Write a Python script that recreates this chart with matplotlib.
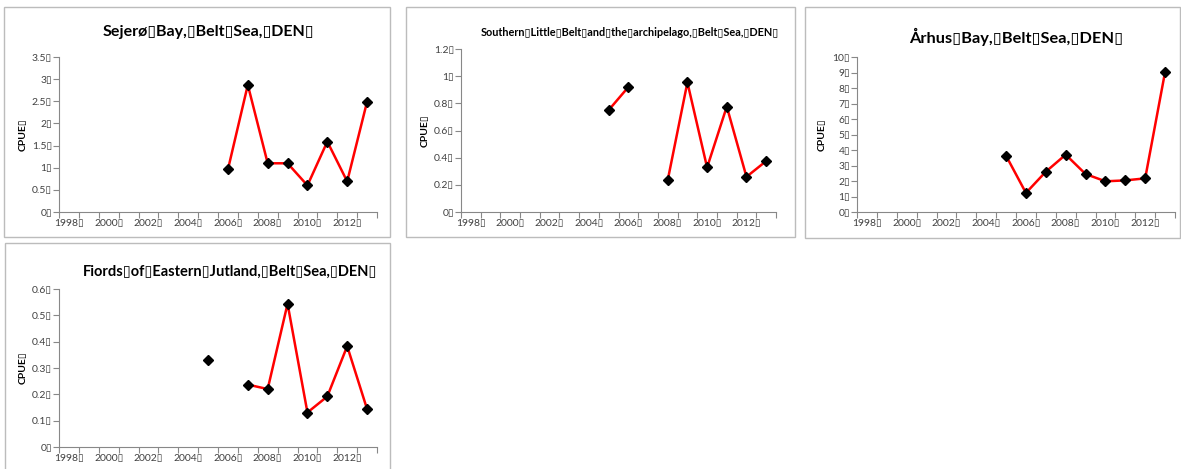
import numpy as np
import matplotlib
matplotlib.use('Agg')
from matplotlib import pyplot as plt
from matplotlib.patches import Rectangle

plt.rcParams['font.family'] = ['Lato', 'DejaVu Sans']

W, H = 1181, 469
NAN = np.nan
BOX = '\u25af'

years = list(range(1998, 2014))
year_labels = [str(y) + BOX if y % 2 == 0 else '' for y in years]

# CPUE per area, one value per year 1998-2013 (NaN = no survey)
sejero = [NAN] * 8 + [0.96, 2.87, 1.10, 1.10, 0.60, 1.59, 0.69, 2.49]
little_belt = [NAN] * 7 + [0.75, 0.92, NAN, 0.234, 0.954, 0.328, 0.776, 0.259, 0.375]
aarhus = [NAN] * 7 + [3.63, 1.23, 2.60, 3.70, 2.45, 1.98, 2.04, 2.17, 9.03]
fiords = [NAN] * 7 + [0.33, NAN, 0.237, 0.22, 0.544, 0.131, 0.192, 0.383, 0.144]

titles = [
    'Sejerø' + BOX + 'Bay,' + BOX + 'Belt' + BOX + 'Sea,' + BOX + 'DEN' + BOX,
    'Southern' + BOX + 'Little' + BOX + 'Belt' + BOX + 'and' + BOX + 'the' + BOX
    + 'archipelago,' + BOX + 'Belt' + BOX + 'Sea,' + BOX + 'DEN' + BOX,
    'Århus' + BOX + 'Bay,' + BOX + 'Belt' + BOX + 'Sea,' + BOX + 'DEN' + BOX,
    'Fiords' + BOX + 'of' + BOX + 'Eastern' + BOX + 'Jutland,' + BOX + 'Belt' + BOX
    + 'Sea,' + BOX + 'DEN' + BOX,
]
y_ticks = [
    [0, 0.5, 1, 1.5, 2, 2.5, 3, 3.5],
    [0, 0.2, 0.4, 0.6, 0.8, 1, 1.2],
    list(range(0, 11)),
    [0, 0.1, 0.2, 0.3, 0.4, 0.5, 0.6],
]
series = [sejero, little_belt, aarhus, fiords]


def frac(x0, y0, x1, y1):
    # pixel box (top-left origin) -> figure fraction rect
    return (x0 / W, 1 - y1 / H, (x1 - x0) / W, (y1 - y0) / H)


def fmt(v):
    s = ('%g' % v)
    return s + BOX


fig = plt.figure(figsize=(W / 100, H / 100), dpi=100)

# outer panel frames
frames = [(4, 7, 390, 237), (406, 7, 795, 237), (805, 7, 1180, 238), (5, 243, 390, 472)]
for x0, y0, x1, y1 in frames:
    fig.patches.append(Rectangle((x0 / W, 1 - y1 / H), (x1 - x0) / W, (y1 - y0) / H,
                                 transform=fig.transFigure, fill=False,
                                 edgecolor='#bcbcbc', linewidth=1.0))

plot_areas = [(59, 57, 377, 212), (461, 49, 776, 212), (857, 57, 1175, 212), (59, 289, 377, 447)]
title_pos = [(208, 32, 11.5, 'center'), (630, 33, 7.8, 'center'), (1016, 37, 11.8, 'center'),
             (230, 272, 10.5, 'center')]
ylabel_x = [23, 425, 822, 23]

for i in range(4):
    ax = fig.add_axes(frac(*plot_areas[i]))
    x = np.arange(len(years))
    ax.plot(x, series[i], color='red', linewidth=1.8, marker='D', markersize=5,
            markerfacecolor='black', markeredgecolor='black', zorder=3)

    ax.set_xlim(-0.5, len(years) - 0.5)
    ax.set_ylim(y_ticks[i][0], y_ticks[i][-1])

    ax.set_xticks(np.arange(-0.5, len(years)), minor=False)
    ax.set_xticklabels([])
    ax.set_xticks(x, minor=True)
    ax.set_xticklabels(year_labels, minor=True, fontsize=7.5, color='#404040')
    ax.tick_params(axis='x', which='major', direction='out', length=4, color='#888888')
    ax.tick_params(axis='x', which='minor', length=0, pad=5)

    ax.set_yticks(y_ticks[i])
    ax.set_yticklabels([fmt(v) for v in y_ticks[i]], fontsize=7.5, color='#404040')
    ax.tick_params(axis='y', direction='out', length=4, color='#888888', pad=1)

    for side in ['top', 'right']:
        ax.spines[side].set_visible(False)
    for side in ['left', 'bottom']:
        ax.spines[side].set_color('#888888')
        ax.spines[side].set_linewidth(0.8)
    ax.patch.set_alpha(0)

    tx, ty, ts, ha = title_pos[i]
    fig.text(tx / W, 1 - ty / H, titles[i], fontsize=ts, fontweight='bold',
             ha=ha, va='center', color='black')
    ymid = (plot_areas[i][1] + plot_areas[i][3]) / 2
    fig.text(ylabel_x[i] / W, 1 - ymid / H, 'CPUE' + BOX, fontsize=7.5, fontweight='bold',
             rotation=90, ha='center', va='center', color='black')

fig.savefig('out.png', dpi=100)
